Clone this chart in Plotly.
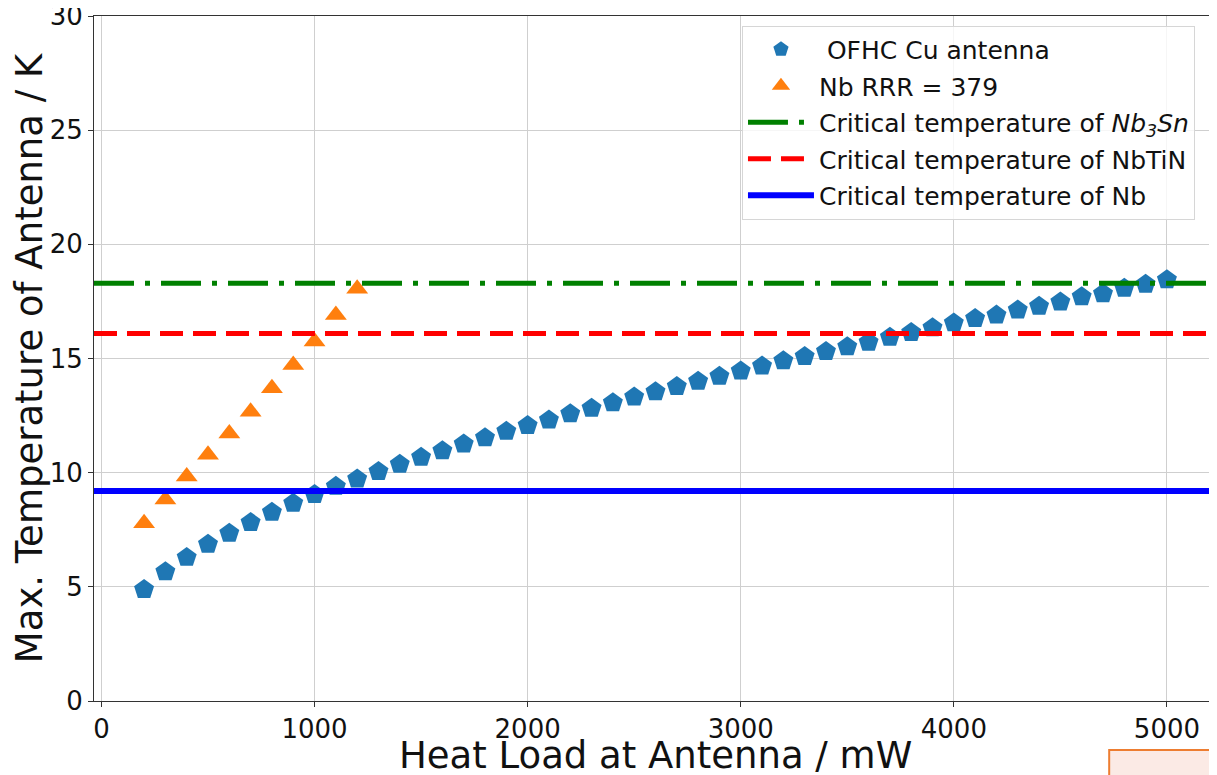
import plotly.graph_objects as go

# ---- data ----
heat_cu = list(range(200, 5001, 100))
temp_cu = [4.88, 5.66, 6.29, 6.86, 7.35, 7.82, 8.27, 8.66, 9.04, 9.40,
           9.72, 10.05, 10.37, 10.68, 10.96, 11.26, 11.53, 11.81, 12.07, 12.31,
           12.58, 12.82, 13.06, 13.31, 13.54, 13.77, 14.00, 14.22, 14.45, 14.67,
           14.90, 15.09, 15.31, 15.51, 15.71, 15.93, 16.14, 16.35, 16.56, 16.75,
           16.90, 17.12, 17.29, 17.47, 17.70, 17.84, 18.08, 18.25, 18.45]

heat_nb = list(range(200, 1201, 100))
temp_nb = [7.78, 8.83, 9.83, 10.78, 11.72, 12.67, 13.70, 14.72, 15.74, 16.90, 18.05]

tc_nb3sn = 18.3
tc_nbtin = 16.1
tc_nb = 9.2

x_range = [-35, 5235]
y_range = [0, 30]
x_ticks = [0, 1000, 2000, 3000, 4000, 5000]
y_ticks = [0, 5, 10, 15, 20, 25, 30]

FONT = "DejaVu Sans"

fig = go.Figure()

fig.add_trace(go.Scatter(
    x=heat_cu, y=temp_cu, mode="markers", name=" OFHC Cu antenna",
    marker=dict(symbol="pentagon", size=21, color="#1f77b4", line=dict(width=0)),
    legendgroup="a", legendrank=1))
fig.add_trace(go.Scatter(
    x=heat_nb, y=temp_nb, mode="markers", name="Nb RRR = 379",
    marker=dict(symbol="triangle-up", size=19, color="#ff7f0e", line=dict(width=0)),
    legendgroup="b", legendrank=2))
fig.add_trace(go.Scatter(
    x=x_range, y=[tc_nb3sn, tc_nb3sn], mode="lines",
    name="Critical temperature of <i>Nb<sub>3</sub>Sn</i>",
    line=dict(color="#008000", width=5, dash="40px,11px,5px,11px"),
    legendgroup="c", legendrank=3))
fig.add_trace(go.Scatter(
    x=x_range, y=[tc_nbtin, tc_nbtin], mode="lines",
    name="Critical temperature of NbTiN",
    line=dict(color="#ff0000", width=5, dash="23px,10px"),
    legendgroup="d", legendrank=4))
fig.add_trace(go.Scatter(
    x=x_range, y=[tc_nb, tc_nb], mode="lines",
    name="Critical temperature of Nb",
    line=dict(color="#0000ff", width=6),
    legendgroup="e", legendrank=5))

axis_common = dict(
    showline=True, linecolor="#333333", linewidth=1, mirror=True,
    ticks="outside", ticklen=5, tickcolor="#333333", tickwidth=1,
    showgrid=True, gridcolor="#cfcfcf", gridwidth=1, zeroline=False,
    automargin=False, ticklabeloverflow="allow",
    tickfont=dict(family=FONT, size=26, color="#111111"),
)

fig.update_xaxes(range=x_range, tickvals=x_ticks, **axis_common)
fig.update_yaxes(range=y_range, tickvals=y_ticks,
                 title=dict(text="Max. Temperature of Antenna / K",
                            font=dict(family=FONT, size=37, color="#111111"),
                            standoff=1),
                 **axis_common)

fig.add_annotation(text="Heat Load at Antenna / mW", xref="paper", yref="paper",
                   x=0.5, y=-0.079, xanchor="center", yanchor="middle",
                   showarrow=False, font=dict(family=FONT, size=37, color="#111111"))

fig.update_layout(
    width=1209, height=767,
    margin=dict(l=86, r=0, t=8, b=74),
    plot_bgcolor="white", paper_bgcolor="white",
    font=dict(family=FONT, color="#111111"),
    legend=dict(x=0.577, y=0.986, xanchor="left", yanchor="top",
                font=dict(family=FONT, size=25, color="#111111"),
                bgcolor="rgba(255,255,255,0.8)", bordercolor="#d6d6d6", borderwidth=1,
                tracegroupgap=1, itemwidth=66),
    shapes=[dict(type="rect", xref="paper", yref="paper",
                 x0=0.904, x1=1.01, y0=-0.115, y1=-0.0715,
                 line=dict(color="#ed7d31", width=2), fillcolor="#fbeae5")],
)

fig.write_html("out.html")
